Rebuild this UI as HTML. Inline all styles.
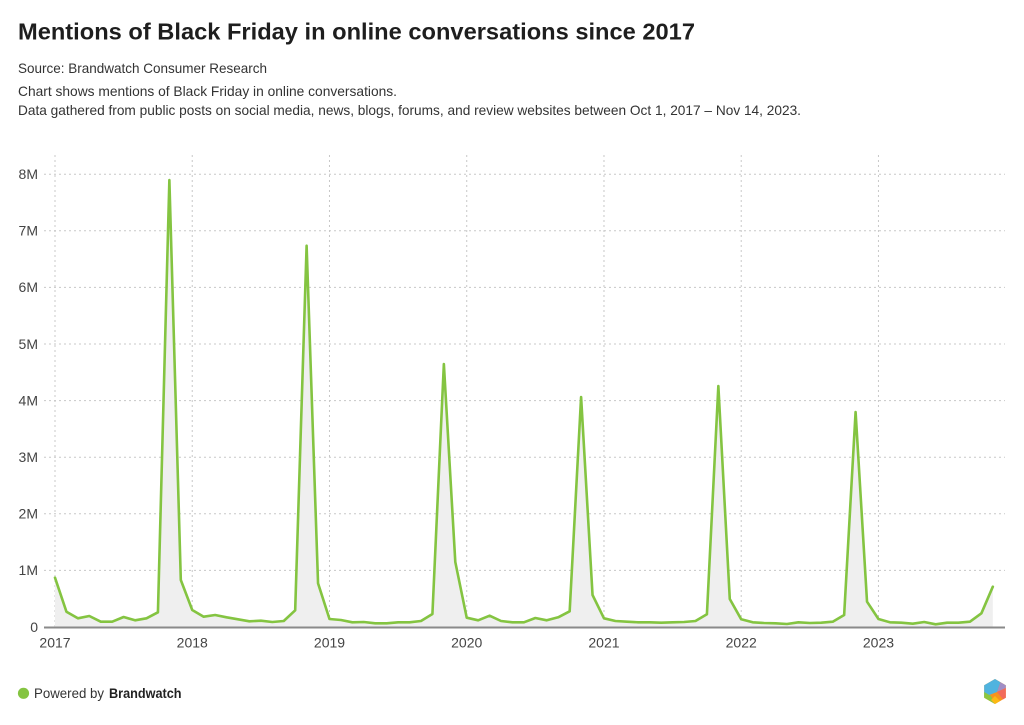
<!DOCTYPE html>
<html>
<head>
<meta charset="utf-8">
<style>
  html,body{margin:0;padding:0;background:#fff;}
  body{width:1024px;height:725px;overflow:hidden;}
  svg{display:block;font-family:"Liberation Sans",Arial,sans-serif;}
</style>
</head>
<body>
<svg width="1024" height="725" viewBox="0 0 1024 725" xmlns="http://www.w3.org/2000/svg">
  <rect width="1024" height="725" fill="#fff"/>
  <!-- Title & subtitles -->
  <text x="18" y="39.5" font-size="23.5" font-weight="bold" fill="#1e1e1e" textLength="677" lengthAdjust="spacingAndGlyphs">Mentions of Black Friday in online conversations since 2017</text>
  <text x="18" y="73" font-size="14" fill="#333" textLength="249" lengthAdjust="spacingAndGlyphs">Source: Brandwatch Consumer Research</text>
  <text x="18" y="96" font-size="14" fill="#333" textLength="379" lengthAdjust="spacingAndGlyphs">Chart shows mentions of Black Friday in online conversations.</text>
  <text x="18" y="115" font-size="14" fill="#333" textLength="783" lengthAdjust="spacingAndGlyphs">Data gathered from public posts on social media, news, blogs, forums, and review websites between Oct 1, 2017 – Nov 14, 2023.</text>

  <!-- Horizontal gridlines -->
  <g stroke="#c8c8c8" stroke-width="1" stroke-dasharray="2,3">
    <line x1="44" y1="174.2" x2="1005" y2="174.2"/>
    <line x1="44" y1="230.8" x2="1005" y2="230.8"/>
    <line x1="44" y1="287.4" x2="1005" y2="287.4"/>
    <line x1="44" y1="344" x2="1005" y2="344"/>
    <line x1="44" y1="400.6" x2="1005" y2="400.6"/>
    <line x1="44" y1="457.2" x2="1005" y2="457.2"/>
    <line x1="44" y1="513.8" x2="1005" y2="513.8"/>
    <line x1="44" y1="570.4" x2="1005" y2="570.4"/>
  </g>
  <!-- Vertical gridlines -->
  <g stroke="#c8c8c8" stroke-width="1" stroke-dasharray="2,3">
    <line x1="55" y1="155" x2="55" y2="627"/>
    <line x1="192.24" y1="155" x2="192.24" y2="627"/>
    <line x1="329.49" y1="155" x2="329.49" y2="627"/>
    <line x1="466.73" y1="155" x2="466.73" y2="627"/>
    <line x1="603.98" y1="155" x2="603.98" y2="627"/>
    <line x1="741.22" y1="155" x2="741.22" y2="627"/>
    <line x1="878.46" y1="155" x2="878.46" y2="627"/>
  </g>

  <!-- Y labels -->
  <g font-size="14" fill="#444" text-anchor="end">
    <text x="38" y="179">8M</text>
    <text x="38" y="235.6">7M</text>
    <text x="38" y="292.2">6M</text>
    <text x="38" y="348.8">5M</text>
    <text x="38" y="405.4">4M</text>
    <text x="38" y="462">3M</text>
    <text x="38" y="518.6">2M</text>
    <text x="38" y="575.2">1M</text>
    <text x="38" y="632">0</text>
  </g>
  <!-- X labels -->
  <g font-size="14" fill="#444" text-anchor="middle">
    <text x="55" y="647.5">2017</text>
    <text x="192.24" y="647.5">2018</text>
    <text x="329.49" y="647.5">2019</text>
    <text x="466.73" y="647.5">2020</text>
    <text x="603.98" y="647.5">2021</text>
    <text x="741.22" y="647.5">2022</text>
    <text x="878.46" y="647.5">2023</text>
  </g>

  <!-- Area -->
  <path fill="#efefef" d="M55,627 L55,577.7 L66.44,611.7 L77.87,618.3 L89.31,616 L100.75,621.7 L112.19,621.7 L123.62,617 L135.06,620.3 L146.5,618.3 L157.93,612.3 L169.37,180 L180.81,580 L192.24,610 L203.68,616.7 L215.12,615 L226.56,617.3 L237.99,619.3 L249.43,621.3 L260.87,620.7 L272.3,622 L283.74,621 L295.18,610.3 L306.61,245.7 L318.05,583.3 L329.49,619 L340.93,620 L352.36,622.3 L363.8,622 L375.24,623.3 L386.67,623.3 L398.11,622.3 L409.55,622.3 L420.98,621 L432.42,614 L443.86,364 L455.3,562 L466.73,617.7 L478.17,620.3 L489.61,615.7 L501.04,621 L512.48,622.3 L523.92,622.3 L535.35,618 L546.79,620.3 L558.23,617.3 L569.67,611.3 L581.1,397 L592.54,595 L603.98,618.3 L615.41,621 L626.85,621.7 L638.29,622.3 L649.72,622.3 L661.16,622.7 L672.6,622.3 L684.04,622 L695.47,621 L706.91,614.3 L718.35,386 L729.78,599 L741.22,619.3 L752.66,622.3 L764.09,623 L775.53,623.3 L786.97,624 L798.41,622.3 L809.84,623 L821.28,622.7 L832.72,621.7 L844.15,615 L855.59,412 L867.03,601.7 L878.46,619 L889.9,622.3 L901.34,622.7 L912.78,623.7 L924.21,622 L935.65,624.3 L947.09,622.7 L958.52,622.7 L969.96,621.7 L981.4,613.3 L992.83,586.7 L992.83,627 Z"/>

  <!-- Axis line -->
  <line x1="44" y1="627.5" x2="1005" y2="627.5" stroke="#8a8a8a" stroke-width="2"/>

  <!-- Line -->
  <polyline fill="none" stroke="#84c441" stroke-width="2.6" stroke-linejoin="round" stroke-linecap="round" points="55,577.7 66.44,611.7 77.87,618.3 89.31,616 100.75,621.7 112.19,621.7 123.62,617 135.06,620.3 146.5,618.3 157.93,612.3 169.37,180 180.81,580 192.24,610 203.68,616.7 215.12,615 226.56,617.3 237.99,619.3 249.43,621.3 260.87,620.7 272.3,622 283.74,621 295.18,610.3 306.61,245.7 318.05,583.3 329.49,619 340.93,620 352.36,622.3 363.8,622 375.24,623.3 386.67,623.3 398.11,622.3 409.55,622.3 420.98,621 432.42,614 443.86,364 455.3,562 466.73,617.7 478.17,620.3 489.61,615.7 501.04,621 512.48,622.3 523.92,622.3 535.35,618 546.79,620.3 558.23,617.3 569.67,611.3 581.1,397 592.54,595 603.98,618.3 615.41,621 626.85,621.7 638.29,622.3 649.72,622.3 661.16,622.7 672.6,622.3 684.04,622 695.47,621 706.91,614.3 718.35,386 729.78,599 741.22,619.3 752.66,622.3 764.09,623 775.53,623.3 786.97,624 798.41,622.3 809.84,623 821.28,622.7 832.72,621.7 844.15,615 855.59,412 867.03,601.7 878.46,619 889.9,622.3 901.34,622.7 912.78,623.7 924.21,622 935.65,624.3 947.09,622.7 958.52,622.7 969.96,621.7 981.4,613.3 992.83,586.7"/>

  <!-- Footer -->
  <circle cx="23.5" cy="693.3" r="5.6" fill="#84c441"/>
  <text x="34" y="698" font-size="14" fill="#333" textLength="70" lengthAdjust="spacingAndGlyphs">Powered by</text>
  <text x="109" y="698" font-size="14" font-weight="bold" fill="#222" textLength="72.5" lengthAdjust="spacingAndGlyphs">Brandwatch</text>

  <!-- Logo hexagon -->
  <g>
    <polygon points="995,679 1005.8,685.25 1005.8,697.75 995,704 984.2,697.75 984.2,685.25" fill="#f7931e"/>
    <polygon points="984.2,685.25 995,679 1000.5,682.2 997,692 984.2,697" fill="#4fb3df"/>
    <polygon points="1000.5,682.2 1005.8,685.25 1005.8,688 997,692" fill="#a08ec6"/>
    <polygon points="1005.8,688 1005.8,697.75 1003,699.4 997,692" fill="#f26b5b"/>
    <polygon points="984.2,692 991,696 995,704 984.2,697.75" fill="#8dc63f"/>
    <polygon points="991,700 995,696 1000,701 995,704" fill="#fdb913"/>
  </g>
</svg>
</body>
</html>
